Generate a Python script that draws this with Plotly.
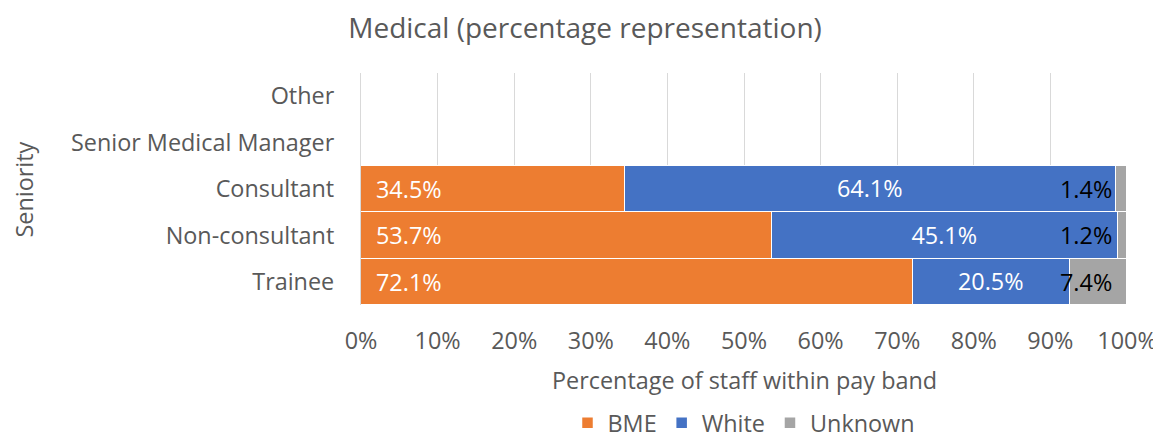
import plotly.graph_objects as go

categories = ["Trainee", "Non-consultant", "Consultant", "Senior Medical Manager", "Other"]
bme = [72.1, 53.7, 34.5, None, None]
white = [20.5, 45.1, 64.1, None, None]
unknown = [7.4, 1.2, 1.4, None, None]
x_ticks = [0, 10, 20, 30, 40, 50, 60, 70, 80, 90, 100]
x_tick_labels = [f"{t}%" for t in x_ticks]

FONT = "Open Sans"
GREY = "#595959"
FS = 23.4

fig = go.Figure()
for name, vals, color in [("BME", bme, "#ED7D31"), ("White", white, "#4472C4"), ("Unknown", unknown, "#A5A5A5")]:
    fig.add_trace(go.Bar(
        y=categories, x=vals, name=name, orientation="h",
        marker=dict(color=color, line=dict(color="white", width=1.5)),
        text=[f"{v:.1f}%" if (v is not None and name == "White") else "" for v in vals],
        textposition="inside", insidetextanchor="middle",
        textfont=dict(color="white", size=FS, family=FONT),
        hoverinfo="x+name",
    ))

annotations = []
for cat, b, w, u in zip(categories, bme, white, unknown):
    if b is None:
        continue
    annotations.append(dict(x=0, y=cat, xref="x", yref="y", text=f"{b:.1f}%", showarrow=False,
                            xanchor="left", xshift=13, font=dict(color="white", size=FS, family=FONT)))
    total = round(b + w + u, 6)
    annotations.append(dict(x=total, y=cat, xref="x", yref="y", text=f"{u:.1f}%", showarrow=False,
                            xanchor="right", xshift=-13, font=dict(color="black", size=FS, family=FONT)))

# axis titles
annotations.append(dict(text="Percentage of staff within pay band", xref="paper", yref="paper",
                        x=0.5, y=-0.323, xanchor="center", yanchor="middle", showarrow=False,
                        font=dict(size=FS, color=GREY, family=FONT)))
annotations.append(dict(text="Seniority", xref="paper", yref="paper", textangle=-90,
                        x=-0.4405, y=0.496, xanchor="center", yanchor="middle", showarrow=False,
                        font=dict(size=FS, color=GREY, family=FONT)))

fig.update_layout(
    barmode="stack", bargap=0.0,
    width=1153, height=430,
    margin=dict(l=353, r=34, t=65, b=133, autoexpand=False),
    paper_bgcolor="white", plot_bgcolor="white",
    font=dict(family=FONT, color=GREY, size=FS),
    title=dict(text="Medical (percentage representation)", x=0.5005, xanchor="center", y=0.952, yanchor="middle",
               font=dict(size=28, color=GREY, family=FONT)),
    xaxis=dict(range=[0, 100], tickvals=x_ticks, ticktext=x_tick_labels, showgrid=True,
               gridcolor="#D9D9D9", gridwidth=1.2, zeroline=False, showline=False, automargin=False,
               tickfont=dict(size=FS, color=GREY), ticks="", ticklabelstandoff=20),
    yaxis=dict(categoryorder="array", categoryarray=categories, showgrid=False, zeroline=False,
               showline=True, linecolor="#D9D9D9", linewidth=1.2, automargin=False,
               tickfont=dict(size=FS, color=GREY), ticks="", ticklabelstandoff=21),
    legend=dict(orientation="h", x=0.5, xanchor="center", y=-0.509, yanchor="middle",
                font=dict(size=FS, color=GREY), traceorder="normal", itemwidth=30),
    annotations=annotations,
    showlegend=True,
)

fig.write_html("out.html")
